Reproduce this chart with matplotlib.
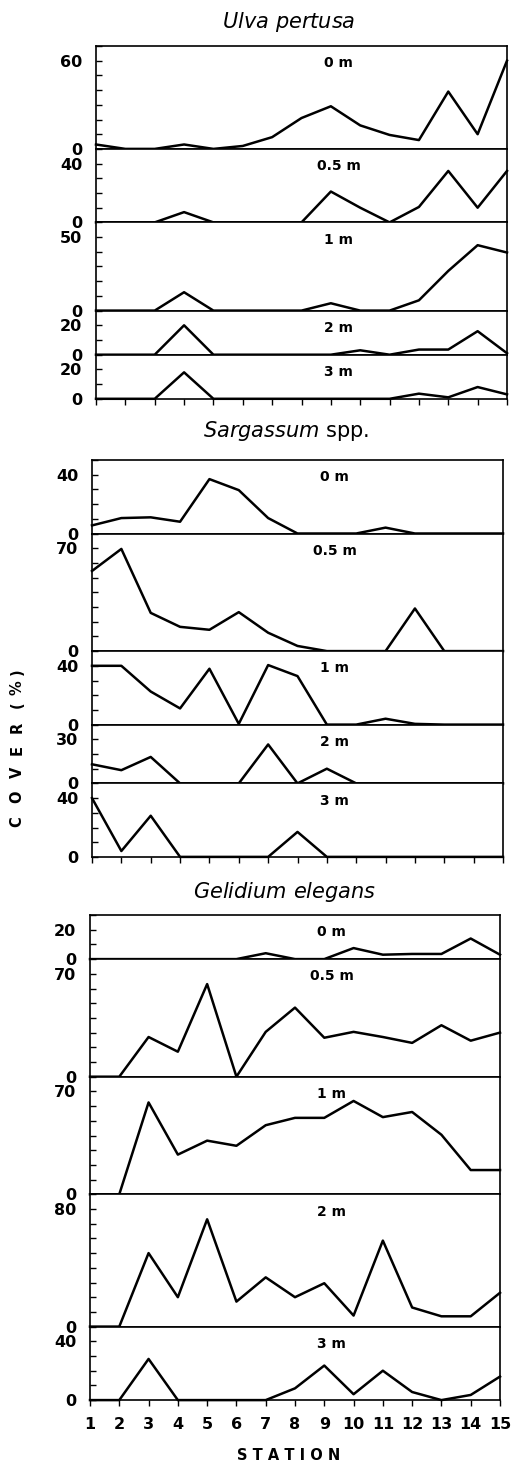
import matplotlib
matplotlib.use('Agg')
import matplotlib.pyplot as plt
from matplotlib.ticker import FixedLocator, MultipleLocator

stations = list(range(1, 16))
depths = ['0 m', '0.5 m', '1 m', '2 m', '3 m']

# Ulva pertusa, cover (%) per depth
ulva_0 = [3, 0, 0, 3, 0, 2, 8, 21, 29, 16, 9.5, 6, 39, 10, 60]
ulva_05 = [0, 0, 0, 7, 0, 0, 0, 0, 21, 10, 0, 10.5, 35, 10, 35]
ulva_1 = [0, 0, 0, 12.5, 0, 0, 0, 0, 5, 0, 0, 7, 27, 44.5, 39.5]
ulva_2 = [0, 0, 0, 20, 0, 0, 0, 0, 0, 3, 0, 3.5, 3.5, 16, 1]
ulva_3 = [0, 0, 0, 18, 0, 0, 0, 0, 0, 0, 0, 3.5, 1, 8, 3]
ulva_labels = [60, 40, 50, 20, 20]
ulva_tops = [70, 50, 60, 30, 30]

# Sargassum spp.
sarg_0 = [5.5, 10.5, 11, 8, 37, 29.5, 10.5, 0, 0, 0, 4, 0, 0, 0, 0]
sarg_05 = [54.5, 69.5, 26, 16.5, 14.5, 26.5, 12.5, 3.5, 0, 0, 0, 29, 0, 0, 0]
sarg_1 = [40, 40, 22.5, 11, 38, 0.5, 40.5, 33, 0, 0, 4, 0.5, 0, 0, 0]
sarg_2 = [13, 9, 18, 0, 0, 0, 26.5, 0, 10, 0, 0, 0, 0, 0, 0]
sarg_3 = [40, 4, 28, 0, 0, 0, 0, 17, 0, 0, 0, 0, 0, 0, 0]
sarg_labels = [40, 70, 40, 30, 40]
sarg_tops = [50, 80, 50, 40, 50]

# Gelidium elegans
gel_0 = [0, 0, 0, 0, 0, 0, 4, 0, 0, 7.5, 3, 3.5, 3.5, 14, 3]
gel_05 = [0, 0, 27, 17, 63, 0, 30.5, 47, 26.5, 30.5, 27, 23, 35, 24.5, 30]
gel_1 = [0, 0, 62.5, 27, 36.5, 33, 47, 52, 52, 63.5, 52.5, 56, 40.5, 16.5, 16.5]
gel_2 = [0, 0, 50, 20, 73, 17, 33.5, 20, 29.5, 7.5, 58.5, 13, 7, 7, 23]
gel_3 = [0, 0, 28, 0, 0, 0, 0, 8, 23.5, 4, 20, 5.5, 0, 3.5, 16]
gel_labels = [20, 70, 70, 80, 40]
gel_tops = [30, 80, 80, 90, 50]

W, H = 513, 1463
PX_PER_UNIT = 1.47

groups = [
    # title, series, labels, ylim tops, (top px, left px, right px, title baseline px, title x px)
    ('$\\mathit{Ulva\\ pertusa}$', [ulva_0, ulva_05, ulva_1, ulva_2, ulva_3],
     ulva_labels, ulva_tops, (46, 96, 507, 28, 289)),
    ('$\\mathit{Sargassum}$ spp.', [sarg_0, sarg_05, sarg_1, sarg_2, sarg_3],
     sarg_labels, sarg_tops, (460, 92, 503, 437, 286)),
    ('$\\mathit{Gelidium\\ elegans}$', [gel_0, gel_05, gel_1, gel_2, gel_3],
     gel_labels, gel_tops, (915, 90, 500, 898, 285)),
]

fig = plt.figure(figsize=(W / 100, H / 100), dpi=100)

for gi, (title, series, labels, tops, (top_px, left_px, right_px, ty, tx)) in enumerate(groups):
    fig.text(tx / W, 1 - ty / H, title, ha='center', va='baseline', fontsize=15)
    y = top_px
    for di, (vals, lab, top) in enumerate(zip(series, labels, tops)):
        h = top * PX_PER_UNIT
        ax = fig.add_axes([left_px / W, 1 - (y + h) / H, (right_px - left_px) / W, h / H])
        y += h
        ax.plot(stations, vals, color='black', lw=1.8, clip_on=False)
        ax.set_xlim(1, 15)
        ax.set_ylim(0, top)
        ax.yaxis.set_major_locator(FixedLocator([0, lab]))
        ax.yaxis.set_minor_locator(MultipleLocator(10))
        ax.tick_params(axis='y', which='both', direction='in', length=4, width=1,
                       labelsize=11.5, pad=10)
        for t in ax.get_yticklabels():
            t.set_fontweight('bold')
        for sp in ax.spines.values():
            sp.set_linewidth(1.2)
        if di == len(series) - 1:
            ax.set_xticks(stations)
            ax.tick_params(axis='x', direction='out', length=4, width=1,
                           labelsize=11.5, pad=8, labelbottom=(gi == 2))
            for t in ax.get_xticklabels():
                t.set_fontweight('bold')
        else:
            ax.tick_params(axis='x', bottom=False, labelbottom=False)
        ax.annotate(depths[di], xy=(0.59, 1), xycoords='axes fraction',
                    xytext=(0, -12.5), textcoords='offset points',
                    ha='center', va='center', fontsize=10, fontweight='bold')

# axis titles
fig.text(289 / W, 1 - 1455 / H, 'S T A T I O N', ha='center', va='center',
         fontsize=10.5, fontweight='bold')
for ch, cy in zip('COVER(%)', [822, 797, 772, 750, 727, 705, 688, 672]):
    fig.text(17 / W, 1 - cy / H, ch, ha='center', va='center', rotation=90,
             fontsize=10.5, fontweight='bold')

fig.savefig('out.png', dpi=100)
